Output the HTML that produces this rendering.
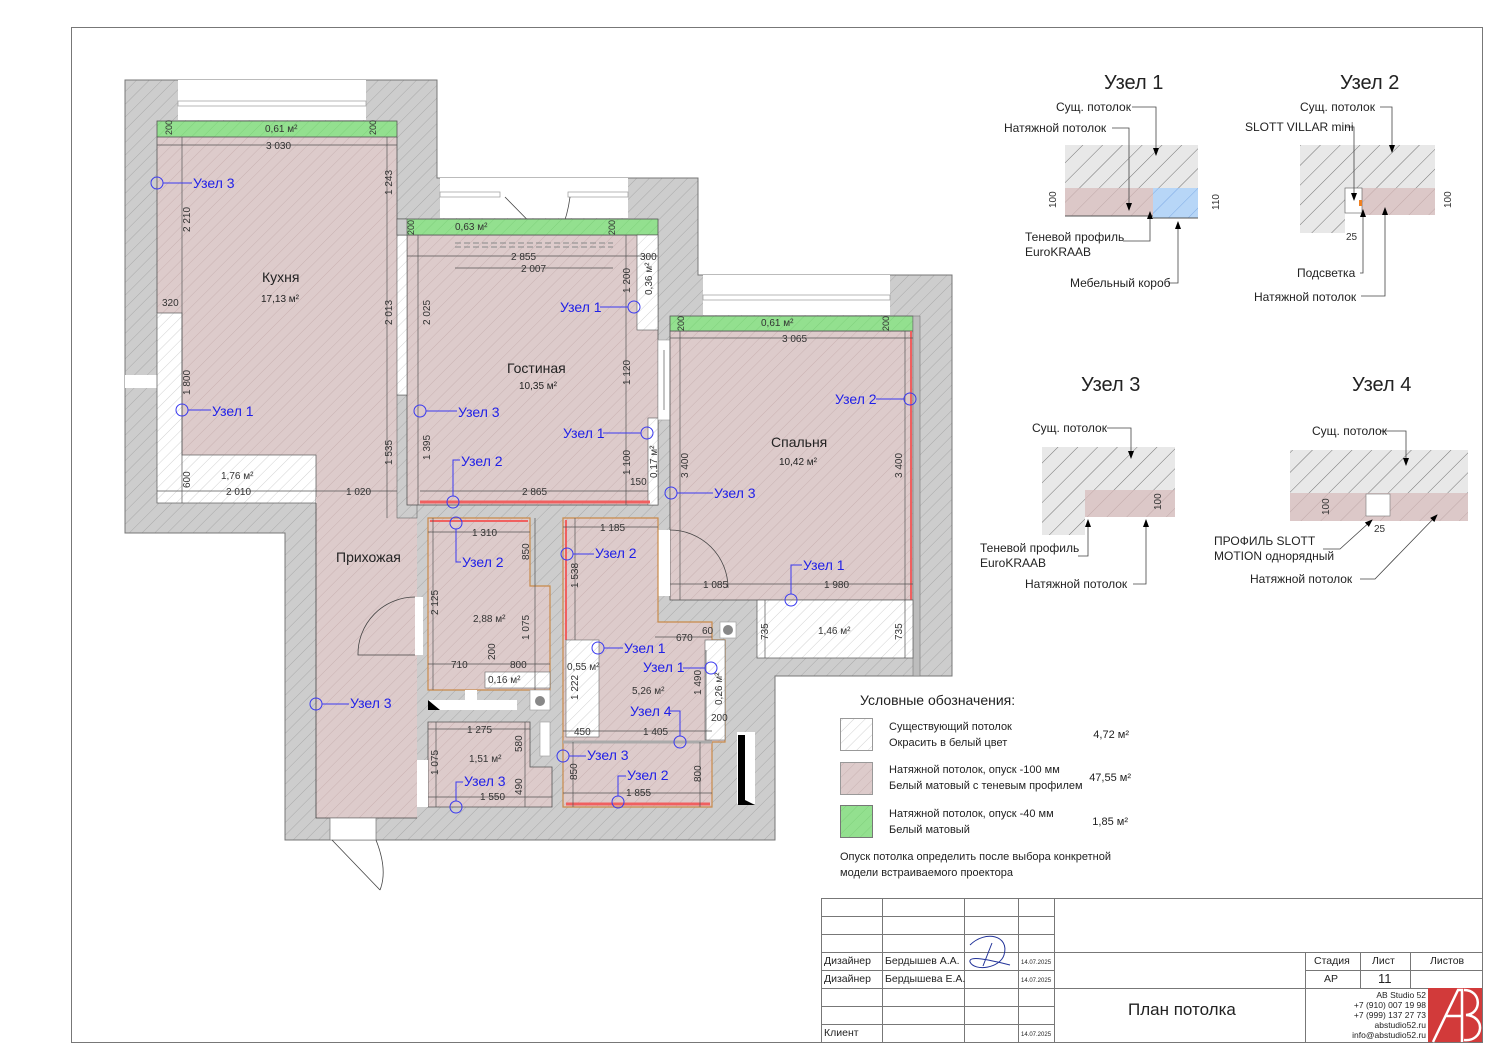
<!DOCTYPE html>
<html><head><meta charset="utf-8"><style>
html,body{margin:0;padding:0;background:#fff;}
svg{display:block;}
text{font-family:"Liberation Sans Narrow","Liberation Sans","DejaVu Sans Condensed",sans-serif;}
.b{fill:#1f1fe8;font-size:14px;}
.bl{stroke:#3a3af0;stroke-width:1;fill:none;}
.d{fill:#333;font-size:10px;}
.dl{stroke:#555;stroke-width:0.7;fill:none;}
.t{fill:#222;}
.ll{stroke:#444;stroke-width:0.8;fill:none;}
.la{stroke:#444;stroke-width:0.8;fill:none;marker-end:url(#ar);}
</style></head><body>
<svg width="1500" height="1059" viewBox="0 0 1500 1059" xmlns="http://www.w3.org/2000/svg">
<defs>
<marker id="ar" markerWidth="8" markerHeight="10" refX="7" refY="3" orient="auto" markerUnits="userSpaceOnUse" viewBox="0 0 8 6"><path d="M0,0 L8,3 L0,6 z" fill="#000"/></marker>
<pattern id="hg" width="9" height="9" patternUnits="userSpaceOnUse" patternTransform="rotate(45)"><rect width="9" height="9" fill="#cdcdcd"/><line x1="0" y1="0" x2="0" y2="9" stroke="#a9a9a9" stroke-width="1"/></pattern>
<pattern id="hp" width="8" height="8" patternUnits="userSpaceOnUse" patternTransform="rotate(45)"><rect width="8" height="8" fill="#ddcbcb"/><line x1="0" y1="0" x2="0" y2="8" stroke="#c9b2b2" stroke-width="1"/></pattern>
<pattern id="hw" width="8" height="8" patternUnits="userSpaceOnUse" patternTransform="rotate(45)"><rect width="8" height="8" fill="#fff"/><line x1="0" y1="0" x2="0" y2="8" stroke="#d2d2d2" stroke-width="1"/></pattern>
<pattern id="hgn" width="8" height="8" patternUnits="userSpaceOnUse" patternTransform="rotate(45)"><rect width="8" height="8" fill="#93e08f"/><line x1="0" y1="0" x2="0" y2="8" stroke="#7fd07b" stroke-width="1"/></pattern>
<pattern id="hd" width="14" height="14" patternUnits="userSpaceOnUse" patternTransform="rotate(45)"><rect width="14" height="14" fill="#e8e8e8"/><line x1="0" y1="0" x2="0" y2="14" stroke="#555" stroke-width="0.8"/></pattern>
<pattern id="hdp" width="14" height="14" patternUnits="userSpaceOnUse" patternTransform="rotate(45)"><rect width="14" height="14" fill="#dcc8c8"/><line x1="0" y1="0" x2="0" y2="14" stroke="#b9a0a0" stroke-width="0.8"/></pattern>
<pattern id="hdb" width="14" height="14" patternUnits="userSpaceOnUse" patternTransform="rotate(45)"><rect width="14" height="14" fill="#b7d6f7"/><line x1="0" y1="0" x2="0" y2="14" stroke="#6f9fe0" stroke-width="0.8"/></pattern>
</defs>

<rect x="71.5" y="27.5" width="1411" height="1015" fill="none" stroke="#777" stroke-width="1"/>

<polygon points="125,80 437,80 437,178 698,178 698,275 952,275 952,676 775,676 775,840 285,840 285,533 125,533" fill="url(#hg)" stroke="#777" stroke-width="1"/>
<rect x="178" y="80" width="188" height="40" fill="#fff"/>
<rect x="178" y="101" width="188" height="5" fill="#fff" stroke="#999" stroke-width="0.7"/>
<rect x="440" y="178" width="188" height="40" fill="#fff"/>
<rect x="440" y="192" width="60" height="5" fill="#fff" stroke="#999" stroke-width="0.7"/>
<rect x="568" y="192" width="60" height="5" fill="#fff" stroke="#999" stroke-width="0.7"/>
<path d="M505,197 L555,248 M570,197 Q565,235 545,250" class="ll" stroke="#666"/>
<rect x="703" y="275" width="187" height="40" fill="#fff"/>
<rect x="703" y="295" width="187" height="5" fill="#fff" stroke="#999" stroke-width="0.7"/>
<rect x="125" y="375" width="32" height="13" fill="#fff"/>

<rect x="157" y="137" width="240" height="366" fill="url(#hp)"/>
<polygon points="157,313 182,313 182,455 316,455 316,503 157,503" fill="url(#hw)" stroke="#666" stroke-width="0.8"/>
<rect x="157" y="121" width="240" height="16" fill="url(#hgn)" stroke="#555" stroke-width="0.8"/>
<line x1="157" y1="137" x2="157" y2="313" stroke="#555" stroke-width="0.8"/>
<line x1="397" y1="137" x2="397" y2="220" stroke="#555" stroke-width="0.8"/>
<rect x="316" y="497" width="101" height="321" fill="url(#hp)"/>
<rect x="316" y="503" width="81" height="15" fill="url(#hp)"/>
<rect x="397" y="395" width="20" height="123" fill="url(#hg)" stroke="#666" stroke-width="0.6"/>
<path d="M316,503 L316,818 L417,818" class="ll"/>
<rect x="415" y="597" width="8" height="58" fill="#fff"/>
<path d="M415,597 A57,57 0 0 0 358,655 L415,655" class="ll" stroke="#777"/>
<rect x="330" y="818" width="46" height="22" fill="#fff" stroke="#777" stroke-width="0.7"/>
<path d="M332,840 L380,890 M376,840 Q388,870 380,890" class="ll" stroke="#777"/>

<rect x="407" y="235" width="251" height="270" fill="url(#hp)" stroke="#555" stroke-width="0.8"/>
<rect x="397" y="235" width="10" height="160" fill="url(#hw)" stroke="#555" stroke-width="0.6"/>
<rect x="397" y="219" width="261" height="16" fill="url(#hgn)" stroke="#555" stroke-width="0.8"/>
<rect x="397" y="219" width="10" height="16" fill="#cdcdcd" stroke="#555" stroke-width="0.6"/>
<rect x="637" y="235" width="21" height="95" fill="url(#hw)" stroke="#555" stroke-width="0.6"/>
<rect x="648" y="418" width="10" height="87" fill="url(#hw)" stroke="#555" stroke-width="0.6"/>
<line x1="420" y1="502" x2="650" y2="502" stroke="#f06060" stroke-width="3"/>
<line x1="455" y1="243" x2="613" y2="243" stroke="#888" stroke-dasharray="6,3"/>
<line x1="455" y1="247" x2="613" y2="247" stroke="#888" stroke-dasharray="6,3"/>
<rect x="658" y="340" width="12" height="80" fill="#fff" stroke="#999" stroke-width="0.6"/>
<line x1="664" y1="350" x2="664" y2="410" stroke="#888"/>

<rect x="670" y="331" width="243" height="269" fill="url(#hp)" stroke="#555" stroke-width="0.8"/>
<rect x="670" y="316" width="243" height="15" fill="url(#hgn)" stroke="#555" stroke-width="0.8"/>
<rect x="913" y="316" width="7" height="360" fill="#bdbdbd" stroke="#777" stroke-width="0.6"/>
<line x1="911" y1="331" x2="911" y2="600" stroke="#f06060" stroke-width="2"/>
<rect x="757" y="600" width="156" height="58" fill="url(#hw)" stroke="#666" stroke-width="0.8"/>
<rect x="658" y="530" width="12" height="66" fill="#fff"/>
<path d="M670,530 A58,58 0 0 1 728,588" class="ll" stroke="#777"/>

<polygon points="428,518 530,518 530,586 550,586 550,690 428,690" fill="url(#hp)" stroke="#c98a4a" stroke-width="1.2"/>
<line x1="430" y1="521" x2="528" y2="521" stroke="#f06060" stroke-width="2"/>
<rect x="485" y="672" width="65" height="16" fill="url(#hw)" stroke="#666" stroke-width="0.6"/>
<rect x="530" y="690" width="20" height="20" fill="#fff" stroke="#999" stroke-width="0.6"/>
<circle cx="540" cy="701" r="5" fill="#888"/>
<polygon points="428,700 517,700 517,710 428,710" fill="#fff"/>
<polygon points="428,700 428,710 440,710" fill="#000"/>
<rect x="465" y="690" width="12" height="10" fill="#fff"/>
<polygon points="428,722 530,722 530,767 552,767 552,807 428,807" fill="url(#hp)" stroke="#555" stroke-width="0.8"/>
<rect x="417" y="760" width="11" height="47" fill="#fff"/>
<rect x="540" y="722" width="10" height="34" fill="#fff" stroke="#999" stroke-width="0.6"/>
<polygon points="563,518 658,518 658,622 712,622 712,640 725,640 725,742 712,742 712,807 563,807" fill="url(#hp)" stroke="#c98a4a" stroke-width="1.2"/>
<line x1="566" y1="520" x2="566" y2="640" stroke="#f06060" stroke-width="2"/>
<line x1="566" y1="804" x2="710" y2="804" stroke="#f06060" stroke-width="3"/>
<rect x="566" y="640" width="33" height="97" fill="url(#hw)" stroke="#666" stroke-width="0.6"/>
<rect x="705" y="640" width="20" height="100" fill="url(#hw)" stroke="#666" stroke-width="0.6"/>
<line x1="563" y1="742" x2="712" y2="742" stroke="#aaa" stroke-width="3"/>
<rect x="720" y="622" width="16" height="16" fill="#fff" stroke="#999" stroke-width="0.6"/>
<circle cx="728" cy="630" r="5" fill="#888"/>
<rect x="737" y="732" width="18" height="72" fill="#fff"/>
<polygon points="738,735 745,735 745,800 755,805 738,805" fill="#000"/>

<g class="dl">
<line x1="157" y1="145" x2="397" y2="145"/><line x1="407" y1="256" x2="658" y2="256"/><line x1="455" y1="268" x2="613" y2="268"/>
<line x1="670" y1="338" x2="913" y2="338"/><line x1="157" y1="491" x2="397" y2="491"/><line x1="420" y1="491" x2="648" y2="491"/>
<line x1="182" y1="137" x2="182" y2="503"/><line x1="387" y1="137" x2="387" y2="518"/><line x1="418" y1="235" x2="418" y2="505"/>
<line x1="626" y1="235" x2="626" y2="505"/><line x1="680" y1="331" x2="680" y2="600"/><line x1="905" y1="331" x2="905" y2="600"/>
<line x1="670" y1="584" x2="913" y2="584"/><line x1="428" y1="532" x2="530" y2="532"/><line x1="535" y1="518" x2="535" y2="690"/>
<line x1="433" y1="518" x2="433" y2="690"/><line x1="428" y1="664" x2="550" y2="664"/><line x1="563" y1="527" x2="658" y2="527"/>
<line x1="575" y1="518" x2="575" y2="640"/><line x1="655" y1="637" x2="712" y2="637"/><line x1="706" y1="650" x2="706" y2="740"/>
<line x1="563" y1="731" x2="712" y2="731"/><line x1="573" y1="742" x2="573" y2="807"/><line x1="700" y1="742" x2="700" y2="807"/>
<line x1="563" y1="793" x2="712" y2="793"/><line x1="428" y1="729" x2="530" y2="729"/><line x1="428" y1="797" x2="552" y2="797"/>
<line x1="436" y1="722" x2="436" y2="807"/><line x1="525" y1="722" x2="525" y2="807"/><line x1="765" y1="600" x2="765" y2="658"/><line x1="905" y1="600" x2="905" y2="658"/>
</g>
<g class="d">
<text x="265" y="132">0,61 м²</text><text x="172" y="135" transform="rotate(-90 172 135)" font-size="9">200</text><text x="376" y="135" transform="rotate(-90 376 135)" font-size="9">200</text>
<text x="266" y="149">3 030</text><text x="190" y="232" transform="rotate(-90 190 232)">2 210</text><text x="392" y="195" transform="rotate(-90 392 195)">1 243</text>
<text x="162" y="306">320</text><text x="392" y="325" transform="rotate(-90 392 325)">2 013</text><text x="190" y="395" transform="rotate(-90 190 395)">1 800</text>
<text x="392" y="465" transform="rotate(-90 392 465)">1 535</text><text x="190" y="488" transform="rotate(-90 190 488)">600</text>
<text x="221" y="479">1,76 м²</text><text x="226" y="495">2 010</text><text x="346" y="495">1 020</text>
<text x="455" y="230">0,63 м²</text><text x="414" y="235" transform="rotate(-90 414 235)" font-size="9">200</text><text x="615" y="235" transform="rotate(-90 615 235)" font-size="9">200</text>
<text x="511" y="260">2 855</text><text x="521" y="272">2 007</text><text x="640" y="260">300</text>
<text x="652" y="295" transform="rotate(-90 652 295)">0,36 м²</text><text x="430" y="325" transform="rotate(-90 430 325)">2 025</text>
<text x="630" y="293" transform="rotate(-90 630 293)">1 200</text><text x="630" y="385" transform="rotate(-90 630 385)">1 120</text>
<text x="430" y="460" transform="rotate(-90 430 460)">1 395</text><text x="630" y="475" transform="rotate(-90 630 475)">1 100</text>
<text x="657" y="478" transform="rotate(-90 657 478)">0,17 м²</text><text x="630" y="485">150</text><text x="522" y="495">2 865</text>
<text x="761" y="326">0,61 м²</text><text x="684" y="331" transform="rotate(-90 684 331)" font-size="9">200</text><text x="889" y="331" transform="rotate(-90 889 331)" font-size="9">200</text>
<text x="782" y="342">3 065</text><text x="688" y="478" transform="rotate(-90 688 478)">3 400</text><text x="902" y="478" transform="rotate(-90 902 478)">3 400</text>
<text x="703" y="588">1 085</text><text x="824" y="588">1 980</text><text x="818" y="634">1,46 м²</text>
<text x="768" y="640" transform="rotate(-90 768 640)">735</text><text x="902" y="640" transform="rotate(-90 902 640)">735</text>
<text x="472" y="536">1 310</text><text x="529" y="560" transform="rotate(-90 529 560)">850</text><text x="438" y="615" transform="rotate(-90 438 615)">2 125</text>
<text x="473" y="622">2,88 м²</text><text x="529" y="640" transform="rotate(-90 529 640)">1 075</text><text x="451" y="668">710</text><text x="510" y="668">800</text>
<text x="495" y="660" transform="rotate(-90 495 660)">200</text><text x="488" y="683">0,16 м²</text>
<text x="600" y="531">1 185</text><text x="578" y="588" transform="rotate(-90 578 588)">1 538</text><text x="676" y="641">670</text><text x="702" y="634">60</text>
<text x="567" y="670">0,55 м²</text><text x="578" y="700" transform="rotate(-90 578 700)">1 222</text><text x="632" y="694">5,26 м²</text>
<text x="701" y="695" transform="rotate(-90 701 695)">1 490</text><text x="722" y="705" transform="rotate(-90 722 705)">0,26 м²</text><text x="711" y="721">200</text>
<text x="574" y="735">450</text><text x="643" y="735">1 405</text><text x="577" y="780" transform="rotate(-90 577 780)">850</text><text x="701" y="782" transform="rotate(-90 701 782)">800</text><text x="626" y="796">1 855</text>
<text x="467" y="733">1 275</text><text x="522" y="752" transform="rotate(-90 522 752)">580</text><text x="469" y="762">1,51 м²</text>
<text x="438" y="775" transform="rotate(-90 438 775)">1 075</text><text x="522" y="795" transform="rotate(-90 522 795)">490</text><text x="480" y="800">1 550</text>
</g>
<g class="t">
<text x="262" y="282" font-size="14">Кухня</text><text x="261" y="302" font-size="10">17,13 м²</text>
<text x="507" y="373" font-size="14">Гостиная</text><text x="519" y="389" font-size="10">10,35 м²</text>
<text x="771" y="447" font-size="14">Спальня</text><text x="779" y="465" font-size="10">10,42 м²</text>
<text x="336" y="562" font-size="14">Прихожая</text>
</g>

<g class="bl">
<circle cx="157" cy="183" r="6"/><line x1="163" y1="183" x2="192" y2="183"/>
<circle cx="182" cy="410" r="6"/><line x1="188" y1="410" x2="211" y2="410"/>
<circle cx="634" cy="307" r="6"/><line x1="600" y1="307" x2="628" y2="307"/>
<circle cx="420" cy="411" r="6"/><line x1="426" y1="411" x2="457" y2="411"/>
<circle cx="647" cy="433" r="6"/><line x1="603" y1="433" x2="641" y2="433"/>
<circle cx="453" cy="502" r="6"/><polyline points="453,496 453,460 460,460"/>
<circle cx="456" cy="523" r="6"/><polyline points="456,529 456,562 461,562"/>
<circle cx="910" cy="399" r="6"/><line x1="876" y1="399" x2="904" y2="399"/>
<circle cx="671" cy="493" r="6"/><line x1="677" y1="493" x2="713" y2="493"/>
<circle cx="791" cy="600" r="6"/><polyline points="791,594 791,565 802,565"/>
<circle cx="567" cy="554" r="6"/><line x1="573" y1="554" x2="594" y2="554"/>
<circle cx="598" cy="648" r="6"/><line x1="604" y1="648" x2="623" y2="648"/>
<circle cx="711" cy="668" r="6"/><line x1="683" y1="668" x2="705" y2="668"/>
<circle cx="680" cy="742" r="6"/><polyline points="680,736 680,711 670,711"/>
<circle cx="563" cy="756" r="6"/><line x1="569" y1="756" x2="586" y2="756"/>
<circle cx="618" cy="802" r="6"/><polyline points="618,796 618,776 626,776"/>
<circle cx="316" cy="704" r="6"/><line x1="322" y1="704" x2="349" y2="704"/>
<circle cx="456" cy="807" r="6"/><polyline points="456,801 456,782 463,782"/>
</g>
<g class="b">
<text x="193" y="188">Узел 3</text><text x="212" y="416">Узел 1</text><text x="560" y="312">Узел 1</text>
<text x="458" y="417">Узел 3</text><text x="563" y="438">Узел 1</text><text x="461" y="466">Узел 2</text>
<text x="462" y="567">Узел 2</text><text x="835" y="404">Узел 2</text><text x="714" y="498">Узел 3</text>
<text x="803" y="570">Узел 1</text><text x="595" y="558">Узел 2</text><text x="624" y="653">Узел 1</text>
<text x="643" y="672">Узел 1</text><text x="630" y="716">Узел 4</text><text x="587" y="760">Узел 3</text>
<text x="627" y="780">Узел 2</text><text x="350" y="708">Узел 3</text><text x="464" y="786">Узел 3</text>
</g>

<g class="t" font-size="20">
<text x="1104" y="89">Узел 1</text><text x="1340" y="89">Узел 2</text>
<text x="1081" y="391">Узел 3</text><text x="1352" y="391">Узел 4</text>
</g>
<rect x="1065" y="145" width="133" height="43" fill="url(#hd)"/>
<rect x="1065" y="188" width="88" height="28" fill="url(#hdp)"/>
<rect x="1153" y="188" width="45" height="30" fill="url(#hdb)"/>
<line x1="1065" y1="216" x2="1153" y2="216" stroke="#555"/><line x1="1153" y1="218" x2="1198" y2="218" stroke="#555"/>
<polygon points="1300,145 1435,145 1435,188 1345,188 1345,233 1300,233" fill="url(#hd)"/>
<rect x="1362" y="188" width="73" height="27" fill="url(#hdp)"/>
<rect x="1345" y="188" width="17" height="25" fill="#fff" stroke="#555" stroke-width="0.6"/>
<rect x="1359" y="200" width="3" height="6" fill="#f08020"/>
<polygon points="1042,447 1175,447 1175,490 1085,490 1085,535 1042,535" fill="url(#hd)"/>
<rect x="1085" y="490" width="90" height="27" fill="url(#hdp)"/>
<rect x="1290" y="450" width="178" height="43" fill="url(#hd)"/>
<rect x="1290" y="493" width="178" height="28" fill="url(#hdp)"/>
<rect x="1366" y="494" width="24" height="22" fill="#fff" stroke="#777" stroke-width="0.6"/>
<g class="la">
<polyline points="1132,107 1156,107 1156,155"/><polyline points="1112,128 1129,128 1129,210"/>
<polyline points="1123,241 1150,241 1150,212"/><polyline points="1168,283 1178,283 1178,222"/>
<polyline points="1380,107 1392,107 1392,152"/><polyline points="1346,127 1354,127 1354,200"/>
<polyline points="1360,273 1363,273 1363,210"/><polyline points="1361,296 1385,296 1385,208"/>
<polyline points="1107,428 1131,428 1131,458"/><polyline points="1078,556 1088,556 1088,520"/>
<polyline points="1133,584 1146,584 1146,520"/><polyline points="1380,431 1406,431 1406,465"/>
<polyline points="1323,549 1340,549 1372,520"/><polyline points="1360,579 1375,579 1437,515"/>
</g>
<g class="d" font-size="9">
<text x="1056" y="208" transform="rotate(-90 1056 208)">100</text><text x="1219" y="210" transform="rotate(-90 1219 210)">110</text>
<text x="1451" y="208" transform="rotate(-90 1451 208)">100</text><text x="1346" y="240">25</text>
<text x="1161" y="510" transform="rotate(-90 1161 510)">100</text><text x="1329" y="515" transform="rotate(-90 1329 515)">100</text><text x="1374" y="532">25</text>
</g>
<g class="t" font-size="12">
<text x="1056" y="111">Сущ. потолок</text><text x="1004" y="132">Натяжной потолок</text>
<text x="1025" y="241">Теневой профиль</text><text x="1025" y="256">EuroKRAAB</text><text x="1070" y="287">Мебельный короб</text>
<text x="1300" y="111">Сущ. потолок</text><text x="1245" y="131">SLOTT VILLAR mini</text>
<text x="1297" y="277">Подсветка</text><text x="1254" y="301">Натяжной потолок</text>
<text x="1032" y="432">Сущ. потолок</text><text x="980" y="552">Теневой профиль</text><text x="980" y="567">EuroKRAAB</text><text x="1025" y="588">Натяжной потолок</text>
<text x="1312" y="435">Сущ. потолок</text><text x="1214" y="545">ПРОФИЛЬ SLOTT</text><text x="1214" y="560">MOTION однорядный</text><text x="1250" y="583">Натяжной потолок</text>
</g>

<g class="t" font-size="11">
<text x="860" y="705" font-size="14">Условные обозначения:</text>
<rect x="840.5" y="718.5" width="32" height="32" fill="url(#hw)" stroke="#999"/>
<rect x="840.5" y="762.5" width="32" height="32" fill="url(#hp)" stroke="#999"/>
<rect x="840.5" y="805.5" width="32" height="32" fill="url(#hgn)" stroke="#777"/>
<text x="889" y="730">Существующий потолок</text><text x="889" y="746">Окрасить в белый цвет</text><text x="1129" y="738" text-anchor="end">4,72 м²</text>
<text x="889" y="773">Натяжной потолок, опуск -100 мм</text><text x="889" y="789">Белый матовый с теневым профилем</text><text x="1131" y="781" text-anchor="end">47,55 м²</text>
<text x="889" y="817">Натяжной потолок, опуск -40 мм</text><text x="889" y="833">Белый матовый</text><text x="1128" y="825" text-anchor="end">1,85 м²</text>
<text x="840" y="860">Опуск потолка определить после выбора конкретной</text><text x="840" y="876">модели встраиваемого проектора</text>
</g>

<g stroke="#777" stroke-width="1" fill="none">
<rect x="821.5" y="898.5" width="661" height="144"/>
<line x1="882.5" y1="898" x2="882.5" y2="1042"/><line x1="964.5" y1="898" x2="964.5" y2="1042"/><line x1="1018.5" y1="898" x2="1018.5" y2="1042"/><line x1="1054.5" y1="898" x2="1054.5" y2="1042"/>
<line x1="821" y1="916.5" x2="1054" y2="916.5"/><line x1="821" y1="934.5" x2="1054" y2="934.5"/><line x1="821" y1="952.5" x2="1482" y2="952.5"/>
<line x1="821" y1="970.5" x2="1054" y2="970.5"/><line x1="1305" y1="970.5" x2="1482" y2="970.5"/><line x1="821" y1="988.5" x2="1482" y2="988.5"/>
<line x1="821" y1="1006.5" x2="1054" y2="1006.5"/><line x1="821" y1="1024.5" x2="1054" y2="1024.5"/>
<line x1="1305.5" y1="952" x2="1305.5" y2="1042"/><line x1="1360.5" y1="952" x2="1360.5" y2="988"/><line x1="1410.5" y1="952" x2="1410.5" y2="988"/>
</g>
<g class="t" font-size="10.5">
<text x="824" y="964">Дизайнер</text><text x="885" y="964">Бердышев А.А.</text><text x="1021" y="964" font-size="6">14.07.2025</text>
<text x="824" y="982">Дизайнер</text><text x="885" y="982">Бердышева Е.А.</text><text x="1021" y="982" font-size="6">14.07.2025</text>
<text x="824" y="1036">Клиент</text><text x="1021" y="1036" font-size="6">14.07.2025</text>
<text x="1128" y="1015" font-size="17">План потолка</text>
<text x="1314" y="964">Стадия</text><text x="1372" y="964">Лист</text><text x="1430" y="964">Листов</text>
<text x="1324" y="982">АР</text><text x="1378" y="983" font-size="13">11</text>
<g font-size="8.5" text-anchor="end"><text x="1426" y="998">AB Studio 52</text><text x="1426" y="1008">+7 (910) 007 19 98</text><text x="1426" y="1018">+7 (999) 137 27 73</text><text x="1426" y="1028">abstudio52.ru</text><text x="1426" y="1038">info@abstudio52.ru</text></g>
</g>
<path d="M970,945 C985,930 1010,935 1004,955 C1000,968 975,972 970,962 C968,955 990,960 1010,965 M992,943 L983,966" stroke="#223399" stroke-width="1" fill="none"/>
<rect x="1428" y="988" width="54" height="54" fill="#d23a3a"/>
<path d="M1433,1042 L1458,990 L1462,990 L1462,1042 M1446,1016 L1462,1016 M1464,990 C1482,990 1482,1014 1466,1015 C1486,1016 1484,1042 1464,1040" stroke="#fff" stroke-width="2.5" fill="none"/>
</svg>
</body></html>
